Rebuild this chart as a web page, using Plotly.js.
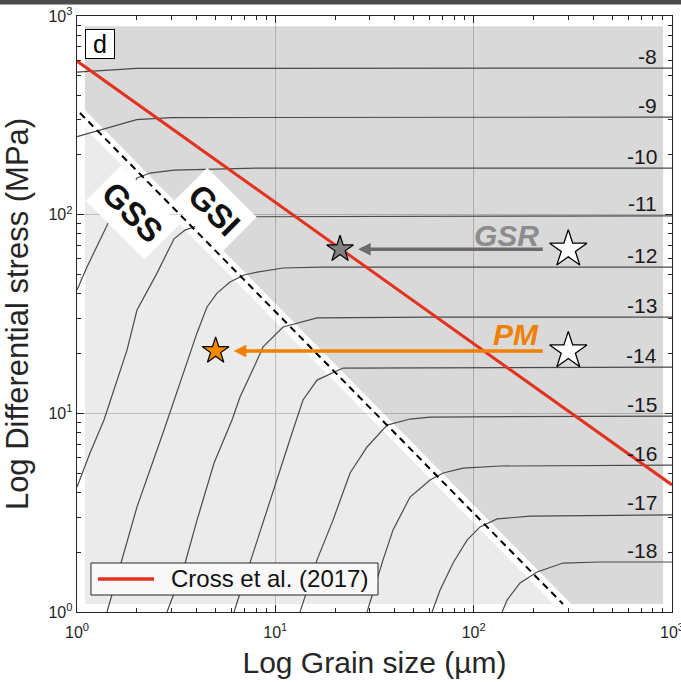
<!DOCTYPE html>
<html><head><meta charset="utf-8">
<script src="https://cdn.plot.ly/plotly-3.0.1.min.js"></script>
<style>html,body{margin:0;padding:0;background:#fff}#chart{width:681px;height:682px}</style>
</head><body><div id="chart"></div>
<script>
// ---------- data (grain size d in µm, differential stress s in MPa) ----------
const rateLabels = ['-8','-9','-10','-11','-12','-13','-14','-15','-16','-17','-18'];

const iso8_d  = [1, 2.0, 1000];
const iso8_s  = [522, 545, 547];
const iso9_d  = [1, 2.0, 3.0, 1000];
const iso9_s  = [247, 301, 308, 310];
const iso10_d = [1, 1.123, 1.306, 1.537, 1.939, 2.007, 2.334, 3.084, 8.087, 1000];
const iso10_s = [41.7, 54.5, 74.5, 104.6, 144.2, 152.9, 162, 167.7, 171.6, 171.6];
const iso11_d = [1, 1.163, 1.368, 1.787, 2.007, 2.532, 3.084, 3.504, 4.319, 7.455, 1000];
const iso11_s = [4.26, 6.31, 9.25, 20.8, 33.1, 50.8, 75.6, 83.6, 90.0, 97.6, 98.7];
const iso12_d = [1.417, 2.007, 2.746, 4.029, 4.524, 5.082, 5.909, 6.954, 8.087, 10.94, 16.8, 1000];
const iso12_s = [1.0, 3.38, 8.24, 25.4, 34.3, 40.3, 45.8, 49.7, 51.4, 53.9, 54.5, 54.5];
const iso13_d = [2.843, 3.464, 4.029, 4.909, 6.047, 6.637, 7.81, 8.67, 10.94, 16.23, 60.27, 1000];
const iso13_s = [1.0, 1.685, 2.90, 5.62, 9.25, 12.08, 17.1, 21.6, 27.2, 30.2, 30.5, 30.5];
const iso14_d = [6.189, 8.087, 12.28, 13.79, 16.23, 21.95, 1000];
const iso14_s = [1.0, 2.30, 8.24, 11.67, 14.7, 16.9, 17.1];
const iso15_d = [13.32, 16.23, 19.54, 23.81, 29.0, 36.59, 47.78, 60.27, 1000];
const iso15_s = [1.0, 1.83, 2.90, 5.01, 6.77, 8.73, 9.36, 9.58, 9.69];
const iso16_d = [29.0, 34.92, 39.22, 47.78, 60.27, 70.12, 88.4, 135.9, 1000];
const iso16_s = [1.0, 1.83, 2.59, 3.79, 4.62, 5.01, 5.30, 5.43, 5.49];
const iso17_d = [61.69, 67.72, 78.74, 92.6, 107.7, 131.2, 192.5, 1000];
const iso17_s = [1.0, 1.29, 1.764, 2.30, 2.68, 2.94, 3.04, 3.08];
const iso18_d = [139.1, 147.4, 171.4, 208.8, 282.4, 433.9, 1000];
const iso18_s = [1.0, 1.149, 1.40, 1.59, 1.764, 1.785, 1.785];

const crossD = [1, 1000];          // Cross et al. (2017) piezometer
const crossS = [593, 4.36];
const boundaryD = [1.035, 282];    // GSS / GSI boundary (dashed)
const boundaryS = [325, 1.097];
const disFieldD = [1.097, 1.097, 902, 902, 310];   // grain-size-insensitive field
const disFieldS = [336, 889, 889, 1.097, 1.097];
const difFieldD = [1.097, 1.097, 253];             // grain-size-sensitive field
const difFieldS = [1.097, 273, 1.097];

const gsrD = [300, 21.2];  const gsrS = [67, 67];
const pmD  = [300, 5.0];   const pmS  = [20.6, 20.6];

const tickVals = [1, 10, 100, 1000];
const tickText = ['10<sup>0</sup>', '10<sup>1</sup>', '10<sup>2</sup>', '10<sup>3</sup>'];
const legendText = 'Cross et al. (2017)';

// ---------- build ----------
const isoD = [iso8_d, iso9_d, iso10_d, iso11_d, iso12_d, iso13_d, iso14_d, iso15_d, iso16_d, iso17_d, iso18_d];
const isoS = [iso8_s, iso9_s, iso10_s, iso11_s, iso12_s, iso13_s, iso14_s, iso15_s, iso16_s, iso17_s, iso18_s];

const FONT = 'Liberation Sans, Arial, Helvetica, sans-serif';
const L = Math.log10;
const RED = '#e3321f';
const traces = [];
traces.push({x: disFieldD, y: disFieldS, mode: 'lines', fill: 'toself', fillcolor: 'rgba(0,0,0,0.15)', line: {width: 0}, hoverinfo: 'skip', showlegend: false});
traces.push({x: difFieldD, y: difFieldS, mode: 'lines', fill: 'toself', fillcolor: 'rgba(0,0,0,0.078)', line: {width: 0}, hoverinfo: 'skip', showlegend: false});
isoD.forEach((d, i) => traces.push({x: d, y: isoS[i], mode: 'lines', line: {color: '#4a4a4a', width: 1.2}, showlegend: false, name: rateLabels[i]}));
traces.push({x: boundaryD, y: boundaryS, mode: 'lines', line: {color: '#000', width: 2, dash: '7px,5px'}, showlegend: false});
traces.push({x: crossD, y: crossS, mode: 'lines', line: {color: RED, width: 3}, name: legendText, showlegend: false});
traces.push({x: [gsrD[0], pmD[0]], y: [gsrS[0], pmS[0]], mode: 'markers', marker: {symbol: 'star', size: 28, color: '#ffffff', line: {color: '#000', width: 1.3}}, showlegend: false});
traces.push({x: [gsrD[1]], y: [gsrS[1]], mode: 'markers', marker: {symbol: 'star', size: 20, color: '#808080', line: {color: '#000', width: 1.2}}, showlegend: false});
traces.push({x: [pmD[1]], y: [pmS[1]], mode: 'markers', marker: {symbol: 'star', size: 20, color: '#f28a00', line: {color: '#000', width: 1.2}}, showlegend: false});

const minorVals = [];
for (let p = 0; p < 3; p++) for (let k = 2; k <= 9; k++) minorVals.push(k * Math.pow(10, p));

function axis(title, tsize, standoff, labelGap) {
  return {
    type: 'log', range: [0, 3], tickmode: 'array', tickvals: tickVals, ticktext: tickText,
    ticks: 'inside', ticklen: 7, tickwidth: 1, tickcolor: '#262626', ticklabeloverflow: 'allow',
    ticklabelstandoff: labelGap,
    showline: true, linecolor: '#262626', linewidth: 1.3, mirror: 'ticks',
    showgrid: true, gridcolor: '#cccccc', gridwidth: 1, zeroline: false,
    tickfont: {size: 16, color: '#262626', family: FONT},
    title: {text: title, font: {size: tsize, color: '#262626', family: FONT}, standoff: standoff},
    minor: {tickmode: 'array', tickvals: minorVals, ticks: 'inside', ticklen: 4, tickwidth: 1, tickcolor: '#262626', showgrid: false}
  };
}

const annotations = [];
// strain-rate labels
isoS.forEach((s, i) => annotations.push({
  x: L(860), y: L(s[s.length - 1]), xref: 'x', yref: 'y', xanchor: 'right', yanchor: 'middle', yshift: 12,
  text: rateLabels[i], showarrow: false, font: {size: 21, color: '#1a1a1a', family: FONT}
}));
// arrows
annotations.push({x: L(gsrD[1]), y: L(gsrS[1]), ax: L(gsrD[0]), ay: L(gsrS[0]), xref: 'x', yref: 'y', axref: 'x', ayref: 'y',
  showarrow: true, arrowhead: 2, arrowsize: 0.72, arrowwidth: 3.5, arrowcolor: '#6b6b6b', standoff: 18, startstandoff: 24, text: ''});
annotations.push({x: L(pmD[1]), y: L(pmS[1]), ax: L(pmD[0]), ay: L(pmS[0]), xref: 'x', yref: 'y', axref: 'x', ayref: 'y',
  showarrow: true, arrowhead: 2, arrowsize: 0.72, arrowwidth: 3.5, arrowcolor: '#f08000', standoff: 18, startstandoff: 24, text: ''});
annotations.push({x: L(219), y: L(78.9), xref: 'x', yref: 'y', xanchor: 'right', yanchor: 'middle', showarrow: false,
  text: '<b><i>GSR</i></b>', font: {size: 30, color: '#8c8c8c', family: FONT}});
annotations.push({x: L(219), y: L(24.8), xref: 'x', yref: 'y', xanchor: 'right', yanchor: 'middle', showarrow: false,
  text: '<b><i>PM</i></b>', font: {size: 30, color: '#f08000', family: FONT}});
// field labels
annotations.push({x: L(1.917), y: L(103), xref: 'x', yref: 'y', xanchor: 'center', yanchor: 'middle', showarrow: false, textangle: 45,
  text: '<b>GSS</b>', font: {size: 33, color: '#111', family: FONT}, bgcolor: '#ffffff', borderpad: 6});
annotations.push({x: L(4.96), y: L(105.5), xref: 'x', yref: 'y', xanchor: 'center', yanchor: 'middle', showarrow: false, textangle: 45,
  text: '<b>GSI</b>', font: {size: 33, color: '#111', family: FONT}, bgcolor: '#ffffff', borderpad: 6});
// panel letter
annotations.push({x: 0.0387, y: 0.953, xref: 'paper', yref: 'paper', xanchor: 'center', yanchor: 'middle', showarrow: false,
  text: '&nbsp;d&nbsp;', font: {size: 25, color: '#000', family: FONT}, bgcolor: '#ffffff', bordercolor: '#000', borderwidth: 1, borderpad: 0});
// legend text
annotations.push({x: 0.1546, y: 0.0554, xref: 'paper', yref: 'paper', xanchor: 'left', yanchor: 'middle', showarrow: false,
  text: legendText, font: {size: 24, color: '#111', family: FONT}});

const shapes = [
  // legend box and sample line
  {type: 'rect', xref: 'paper', yref: 'paper', x0: 0.0235, x1: 0.5059, y0: 0.0285, y1: 0.0822,
   fillcolor: '#f8f8f8', line: {color: '#262626', width: 1}, layer: 'above'},
  {type: 'line', xref: 'paper', yref: 'paper', x0: 0.0353, x1: 0.1294, y0: 0.0554, y1: 0.0554,
   line: {color: RED, width: 3.5}, layer: 'above'},
  // strip of the neighbouring panel at the top edge
  {type: 'rect', xref: 'paper', yref: 'paper', x0: -0.13, x1: 1.02, y0: 1 + 11.5 / 596, y1: 1 + 16 / 596,
   fillcolor: '#4a4a4a', line: {width: 0}, layer: 'above'}
];

const layout = {
  width: 681, height: 682,
  margin: {l: 77, r: 9, t: 16, b: 70},
  paper_bgcolor: '#ffffff', plot_bgcolor: '#ffffff',
  font: {family: FONT, color: '#262626'},
  xaxis: axis('Log Grain size (µm)', 30, 12, 5),
  yaxis: axis('Log Differential stress (MPa)', 31, 10, 0),
  annotations: annotations,
  shapes: shapes,
  showlegend: false
};

Plotly.newPlot('chart', traces, layout, {displayModeBar: false, staticPlot: true});
</script>
</body></html>
